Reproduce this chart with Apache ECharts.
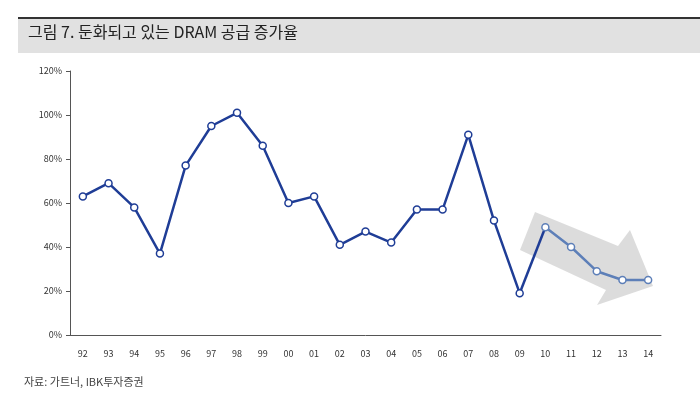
<!DOCTYPE html>
<html><head><meta charset="utf-8">
<script src="https://cdn.jsdelivr.net/npm/echarts@6/dist/echarts.min.js"></script>
<style>body{margin:0;background:#fff}#c{width:700px;height:406px}</style>
</head><body><div id="c"></div>
<script>
const categories=['92','93','94','95','96','97','98','99','00','01','02','03','04','05','06','07','08','09','10','11','12','13','14'];
const growth=[63,69,58,37,77,95,101,86,60,63,41,47,42,57,57,91,52,19,49,40,29,25,25];
const yTicks=[0,20,40,60,80,100,120];
const splitIdx=18;
const early=growth.map((v,i)=>i<splitIdx?v:null);
const late=growth.map((v,i)=>i>=splitIdx?v:null);
const chart=echarts.init(document.getElementById('c'));
const font='"Noto Sans CJK KR", sans-serif';
chart.setOption({
  animation:false,
  graphic:[
    {type:'rect',shape:{x:18,y:17,width:682,height:2},style:{fill:'#333'}},
    {type:'rect',shape:{x:18,y:19,width:682,height:34},style:{fill:'#e1e1e1'}},
    {type:'text',left:28,top:24,style:{text:'그림 7. 둔화되고 있는 DRAM 공급 증가율',font:'16px '+font,fill:'#222'}},
    {type:'polygon',z:1,shape:{points:[[535,212],[618,246],[630,230],[653,286],[597,305],[606,290],[520,250]]},style:{fill:'#d6d6d6',opacity:0.85}},
    {type:'text',left:24,top:376,style:{text:'자료: 가트너, IBK투자증권',font:'11px '+font,fill:'#444'}}
  ],
  grid:{left:70,top:71,width:591,height:264},
  xAxis:{type:'category',data:categories,boundaryGap:true,
    axisLine:{lineStyle:{color:'#555'}},axisTick:{show:false},
    axisLabel:{color:'#333',fontSize:9,margin:14,fontFamily:font}},
  yAxis:{type:'value',min:0,max:120,interval:20,
    axisLine:{show:true,lineStyle:{color:'#555'}},axisTick:{show:true,length:4,inside:false,lineStyle:{color:'#555'}},
    splitLine:{show:false},
    axisLabel:{color:'#333',fontSize:9,fontFamily:font,formatter:v=>yTicks.includes(v)?v+'%':''}},
  series:[
    {type:'line',data:early,z:3,symbol:'circle',symbolSize:7,connectNulls:false,
      lineStyle:{color:'#1f3d96',width:2.5},itemStyle:{color:'#fff',borderColor:'#1f3d96',borderWidth:1.5}},
    {type:'line',data:growth.map((v,i)=>i>=splitIdx-1&&i<splitIdx+1?v:null),z:3,symbol:'none',
      lineStyle:{color:'#1f3d96',width:2.5}},
    {type:'line',data:late,z:4,symbol:'circle',symbolSize:7,
      lineStyle:{color:'#5d7fb8',width:2.5},itemStyle:{color:'#fff',borderColor:'#5d7fb8',borderWidth:1.5}}
  ]
});
</script></body></html>
